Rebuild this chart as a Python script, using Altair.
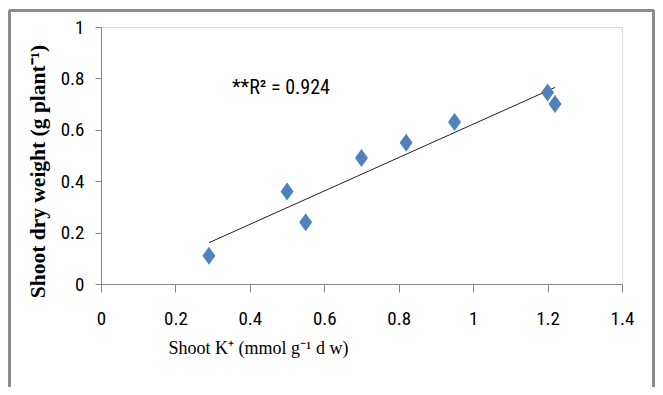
import altair as alt
import pandas as pd

# Data
shoot_k = [0.29, 0.50, 0.55, 0.70, 0.82, 0.95, 1.20, 1.22]
shoot_dw = [0.11, 0.36, 0.24, 0.49, 0.55, 0.63, 0.745, 0.70]
x_ticks = [0, 0.2, 0.4, 0.6, 0.8, 1.0, 1.2, 1.4]
y_ticks = [0, 0.2, 0.4, 0.6, 0.8, 1.0]
annot_text = ["**R\u00b2 = 0.924"]
annot_x = [0.352]
annot_y = [0.763]

df = pd.DataFrame({"k": shoot_k, "dw": shoot_dw})
ann = pd.DataFrame({"x": annot_x, "y": annot_y, "t": annot_text})

NARROW = "Liberation Sans Narrow, Roboto Condensed, DejaVu Sans Condensed, sans-serif"
SERIF = "Liberation Serif, Times New Roman, serif"

W, H = 521, 257
PL, PT = 93, 19
TOTAL_W, TOTAL_H = 647, 379

xs = alt.Scale(domain=[0, 1.4], nice=False)
ys = alt.Scale(domain=[0, 1], nice=False)

x_enc = alt.X(
    "k:Q", scale=xs,
    axis=alt.Axis(
        values=x_ticks, format="~g", grid=False,
        title="Shoot K\u207a (mmol g\u207b\u00b9 d w)",
        titleFont=SERIF, titleFontSize=18, titleFontWeight="normal",
        titleX=157, titleY=64, titleAlign="center", titleBaseline="middle",
        titleColor="#000",
        labelFont=NARROW, labelFontSize=19, labelColor="#000", labelPadding=17,
        domainColor="#868686", tickColor="#868686", tickSize=8,
        labelFlush=False,
    ),
)
y_enc = alt.Y(
    "dw:Q", scale=ys,
    axis=alt.Axis(
        values=y_ticks, format="~g", grid=False,
        title="Shoot dry weight (g plant\u207b\u00b9)",
        titleFont=SERIF, titleFontSize=21.5, titleFontWeight="bold",
        titleX=-63, titleY=144, titleAlign="center", titleBaseline="middle",
        titleAngle=270, titleColor="#000",
        labelFont=NARROW, labelFontSize=19, labelColor="#000", labelPadding=11,
        domainColor="#868686", tickColor="#868686", tickSize=6,
        labelFlush=False,
    ),
)

diamond = "M0,-1L0.72,0L0,1L-0.72,0Z"

points = alt.Chart(df).mark_point(
    shape=diamond, filled=True, size=324, color="#4F81BD", opacity=1, strokeWidth=0
).encode(x=x_enc, y=y_enc)

trend = alt.Chart(df).transform_regression("k", "dw").mark_line(
    color="#222222", strokeWidth=1
).encode(x=alt.X("k:Q", scale=xs), y=alt.Y("dw:Q", scale=ys))

label = alt.Chart(ann).mark_text(
    align="left", baseline="middle", font=NARROW, fontSize=20, color="#000"
).encode(x=alt.X("x:Q", scale=xs), y=alt.Y("y:Q", scale=ys), text="t:N")

# outer frame (decorative)
fl = -PL + 1.5
ft = -PT + 2.5
fr = TOTAL_W - PL - 1.5
fb = 400
frame_left = alt.Chart(df).mark_rule(color="#8c8c8c", strokeWidth=2).encode(
    x=alt.value(fl), y=alt.value(ft), y2=alt.value(fb))
frame_top = alt.Chart(df).mark_rule(color="#8c8c8c", strokeWidth=2).encode(
    x=alt.value(fl), x2=alt.value(fr), y=alt.value(ft))
frame_right = alt.Chart(df).mark_rule(color="#8c8c8c", strokeWidth=2).encode(
    x=alt.value(fr), y=alt.value(ft), y2=alt.value(fb))

chart = alt.layer(trend, points, label, frame_left, frame_top, frame_right).properties(
    width=W, height=H,
    autosize=alt.AutoSizeParams(type="none"),
    padding={"left": PL, "top": PT, "right": TOTAL_W - PL - W, "bottom": TOTAL_H - PT - H},
).configure_view(stroke=None).configure(background="white")

chart.save("out.html", embed_options={"renderer": "svg", "actions": False})
